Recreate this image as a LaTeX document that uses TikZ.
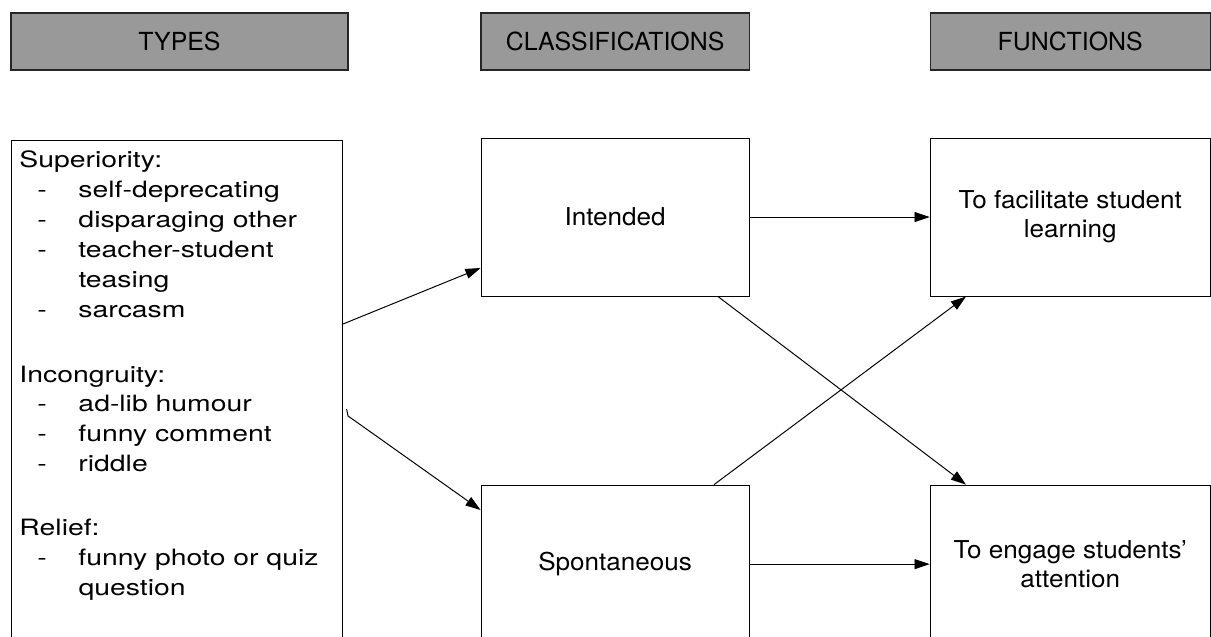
\documentclass[tikz,border=0pt]{standalone}
\usepackage{fontspec}
\setmainfont{TeX Gyre Heros}
\newfontfamily\listfont{TeX Gyre Heros}[FakeStretch=1.26]
\newfontfamily\boxfont{TeX Gyre Heros}[FakeStretch=1.06]
\usetikzlibrary{arrows.meta}
\definecolor{headgray}{HTML}{999999}
\newcommand{\itm}[1]{\hspace*{0.45cm}\makebox[1.025cm][l]{-}#1\par}
\newcommand{\cont}[1]{\hspace*{1.475cm}#1\par}

\begin{document}
\begin{tikzpicture}[x=0.025cm, y=-0.025cm, >={Triangle[length=0.38cm, width=0.25cm]}]
        % Style des noeuds
        \tikzstyle{head} = [draw=black!85, line width=0.9pt, fill=headgray, minimum height=1.425cm, inner sep=0pt, font=\fontsize{17.7}{21}\selectfont]
        \tikzstyle{box} = [draw, line width=0.7pt, minimum width=6.7cm, minimum height=3.95cm, align=center, font=\boxfont\fontsize{17.5}{20.6}\selectfont]
        \tikzstyle{arr} = [->, line width=0.7pt]

        \useasboundingbox (0,0) rectangle (1211,637);
        \clip (0,0) rectangle (1211,637);

        % En-tetes
        \node[head, minimum width=8.425cm] (typeshead) at (179.5,41.5) {TYPES};
        \node[head, minimum width=6.7cm] (classhead) [right of=typeshead, node distance=10.8875cm] {CLASSIFICATIONS};
        \node[head, minimum width=7cm] (funchead) [right of=classhead, node distance=11.375cm] {FUNCTIONS};

        % Definition des noeuds
        \node[draw, line width=0.7pt, anchor=north west, inner xsep=0.2cm, inner ysep=0.25cm] (types) at (11,140) {\parbox[t][13cm][t]{7.875cm}{\listfont\fontsize{16}{21.3}\selectfont
            Superiority:\par
            \itm{self-deprecating}
            \itm{disparaging other}
            \itm{teacher-student}
            \cont{teasing}
            \itm{sarcasm}
            \vspace{0.875cm}
            Incongruity:\par
            \itm{ad-lib humour}
            \itm{funny comment}
            \itm{riddle}
            \vspace{0.85cm}
            Relief:\par
            \itm{funny photo or quiz}
            \cont{question}}};
        \node[box] (intended) [below of=classhead, node distance=4.3875cm] {Intended};
        \node[box] (spontaneous) [below of=intended, node distance=8.675cm] {Spontaneous};
        \node[box, minimum width=7cm] (facilitate) [below of=funchead, node distance=4.3875cm] {To facilitate student\\learning};
        \node[box, minimum width=7cm] (engage) [below of=facilitate, node distance=8.675cm] {To engage students’\\attention};

        % Fleches
        \draw[arr] (types.east |- 0,324) -- (intended.west |- 0,268);
        \draw[arr] (types.east |- 0,409) ++(3.5,0) -- ++(1.5,7) -- (spontaneous.west |- 0,510);
        \draw[arr] (intended) -- (facilitate);
        \draw[arr] (intended.south -| 718,0) -- (engage.north -| 966,0);
        \draw[arr] (spontaneous.north -| 714,0) -- (facilitate.south -| 966,0);
        \draw[arr] (spontaneous) -- (engage);

    \end{tikzpicture}
\end{document}
